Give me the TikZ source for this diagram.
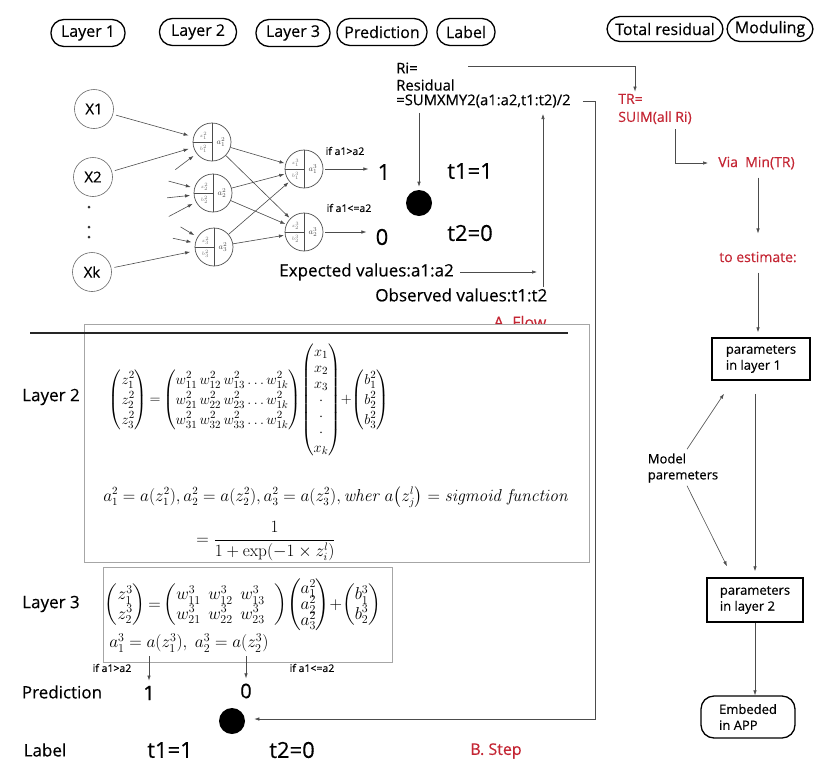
\documentclass[tikz,border=0pt]{standalone}
\usepackage{amsmath}
\usepackage[no-math]{fontspec}
\setmainfont{Open Sans}[FakeBold=0.4]
\usetikzlibrary{arrows.meta}
\definecolor{flowred}{RGB}{196,38,52}
\newcommand{\fsz}[2]{\fontsize{#1}{#2}\selectfont}
% one neuron: name, x, y, layer, index
\newcommand{\neuron}[5]{%
	\node (#1) at (#2,#3)	[neuron]	{};
	\draw (#1.north) -- (#1.south);
	\draw (#1.west) -- (#1.center);
	\node (#1z) at ([xshift=-8.5pt,yshift=6pt]#1.center)	[zb]	{$z^{#4}_{#5}$};
	\node (#1b) at ([xshift=-8.5pt,yshift=-7pt]#1.center)	[zb]	{$b^{#4}_{#5}$};
	\node (#1a) at ([xshift=9pt]#1.center)	[act]	{$a^{#4}_{#5}$};
}
\begin{document}
\begin{tikzpicture}[x=1pt, y=-1pt, line width=0.6pt, draw=black!70, >={Latex[length=5pt,width=3.5pt]},
	pill/.style={rectangle, rounded corners=13pt, draw=black, line width=1.3pt, inner sep=0pt, minimum height=27pt, font=\fsz{16}{19}},
	xnode/.style={circle, draw=black!60, minimum size=39pt, inner sep=0pt, font=\fsz{15}{18}},
	neuron/.style={circle, draw=black!70, line width=0.7pt, minimum size=38pt, inner sep=0pt},
	zb/.style={inner sep=0pt, text=black!55, font=\fsz{5}{6}},
	act/.style={inner sep=0pt, text=black!70, font=\fsz{8}{9}},
	iflbl/.style={inner sep=0pt, font=\fsz{10.5}{12}},
	bignum/.style={inner sep=0pt, font=\fsz{22}{24}},
	res/.style={inner sep=0pt, font=\fsz{14.8}{16}},
	mid/.style={inner sep=0pt, font=\fsz{17}{19}},
	side/.style={inner sep=0pt, font=\fsz{17}{20}},
	redtxt/.style={inner sep=0pt, text=flowred, font=\fsz{14}{18}},
	prm/.style={rectangle, draw=black, line width=1.5pt, inner sep=0pt, align=left, font=\fsz{13}{16}},
	frame/.style={rectangle, draw=black!35, line width=0.6pt, fill=white, inner sep=0pt},
	formula/.style={inner sep=0pt, text=black},
	bdot/.style={circle, fill=black, minimum size=26pt, inner sep=0pt}]
	\useasboundingbox (0,0) rectangle (816,763);

	% headers
	\node (HLay1) at (88,33)	[pill, minimum width=74pt]	{Layer 1};
	\node (HLay2) at (198,32)	[pill, minimum width=77pt]	{Layer 2};
	\node (HLay3) at (293,33)	[pill, minimum width=74pt]	{Layer 3};
	\node (HPred) at (382,32)	[pill, minimum width=90pt]	{Prediction};
	\node (HLab) at (466,32)	[pill, minimum width=58pt]	{Label};
	\node (HTot) at (665,29)	[pill, minimum width=116pt, minimum height=25pt]	{Total residual};
	\node (HMod) at (770,29)	[pill, minimum width=86pt, minimum height=25pt]	{Moduling};

	% A. Flow
	\node (X1) at (94,109)	[xnode]	{X1};
	\node (X2) at (93,177)	[xnode]	{X2};
	\node (Xk) at (92,272)	[xnode]	{Xk};
	\foreach \y [count=\i] in {207,227,237}
		\node (Dots\i) at (89,\y)	[circle, fill=black!80, inner sep=0pt, minimum size=3pt]	{};

	\neuron{N21}{212}{142}{2}{1}
	\neuron{N22}{213}{193}{2}{2}
	\neuron{N23}{214}{247}{2}{3}
	\neuron{N31}{304}{169}{3}{1}
	\neuron{N32}{304}{232}{3}{2}

	\draw[->, shorten <=3pt, shorten >=5pt] (X1) -- (N21);
	\draw[->, shorten <=3pt, shorten >=5pt] (X2) -- (N21);
	\draw[->, shorten <=3pt, shorten >=5pt] (Xk) -- (N23);
	\foreach \n/\a/\r in {N21/217/46pt, N22/165/46pt, N22/186/46pt, N22/208/50pt, N23/149/39pt, N23/168/42pt}
		\draw[->] ([shift={(\a:\r)}]\n.center) -- ([shift={(\a:23pt)}]\n.center);
	\foreach \s in {N21,N22,N23}
		\foreach \t in {N31,N32}
			\draw[->, shorten >=1pt] (\s) -- (\t);

	\node (Out1) at (384,172)	[bignum]	{1};
	\node (Out0) at (382,237)	[bignum]	{0};
	\node (If1) at (345,151)	[iflbl]	{if a1>a2};
	\node (If2) at (349,208)	[iflbl]	{if a1<=a2};
	\draw[->, shorten <=2pt, shorten >=9pt] (N31.east) -- (N31.east -| Out1.west);
	\draw[->, shorten <=2pt, shorten >=9pt] (N32.east) -- (N32.east -| Out0.west);

	\node (Dot1) at (419,203)	[bdot]	{};
	\node (T1) at (470,171)	[bignum]	{t1=1};
	\node (T2) at (470,233)	[bignum]	{t2=0};

	\node (Ri) at (396,68)	[res, anchor=west]	{Ri=};
	\node (Resid) at (396,85)	[res, anchor=west]	{Residual};
	\node (Sumx) at (396,101)	[res, anchor=west]	{=SUMXMY2(a1:a2,t1:t2)/2};
	\draw[->, shorten <=5pt, shorten >=3pt] (Dot1.north |- Sumx.south) -- (Dot1.north);

	\node (Expect) at (279,272)	[mid, anchor=west]	{Expected values:a1:a2};
	\node (Obs) at (375,295)	[mid, anchor=west]	{Observed values:t1:t2};
	\coordinate (VBot) at (543,287);
	\coordinate (VTop) at (543,114);
	\draw[->] (VBot) -- (VTop);
	\draw[->, shorten <=6pt, shorten >=6pt] (Expect.east) -- (Expect.east -| VBot);

	% total residual and moduling
	\node (TR) at (618,109)	[redtxt, anchor=west, align=left]	{TR=\\SUIM(all Ri)};
	\coordinate (RiLine) at (468,66);
	\coordinate (TRturn) at (635,66);
	\draw[->, shorten >=2pt] (RiLine) -- (TRturn) -- (TRturn |- TR.north);
	\node (Via) at (718,163)	[redtxt, anchor=west]	{Via\ \ Min(TR)};
	\draw[->, shorten >=10pt] ([xshift=20pt,yshift=-5pt]TR.south) |- (Via.west);
	\node (Est) at (758,257)	[redtxt]	{to estimate:};
	\draw[->, shorten <=8pt, shorten >=18pt] (Est.north |- Via.south) -- (Est.north);
	\node (P1) at (761,359)	[prm, minimum width=98pt, minimum height=42pt]	{parameters\\in layer 1};
	\node (P2) at (755,600)	[prm, minimum width=96pt, minimum height=44pt]	{parameters\\in layer 2};
	\node (App) at (748,717)	[pill, minimum width=94pt, minimum height=42pt, align=left, font=\fsz{13}{16}]	{Embeded\\in APP};
	\draw[->, shorten <=10pt, shorten >=5pt] (Est.south) -- (Est.south |- P1.north);
	\draw[->, shorten <=13pt, shorten >=6pt] (P2.north |- P1.south) -- (P2.north);
	\draw[->] (P2.south) -- (P2.south |- App.north);
	\node (Model) at (683,468)	[inner sep=0pt, align=left, font=\fsz{13}{16}]	{Model\\paremeters};
	\draw[->] ([xshift=4pt,yshift=4pt]Model.north) -- ([xshift=-37pt,yshift=-13pt]P1.south);
	\draw[->] ([xshift=4pt,yshift=-3pt]Model.south) -- ([xshift=-28pt,yshift=11pt]P2.north);

	% B. Step
	\node (AFlow) at (520,328)	[redtxt, anchor=base, font=\fsz{16}{18}]	{A. Flow};
	\node (Box2) at (336.5,443)	[frame, minimum width=505pt, minimum height=238pt]	{};
	\draw[line width=2pt, black!85] (30,333) -- (568,333);
	\node (Box3) at (247.5,614.5)	[frame, minimum width=289pt, minimum height=95pt]	{};

	\node (L2lab) at (51,397)	[side]	{Layer 2};
	\node (Eq2) at (249,400)	[formula, font=\fsz{15.5}{20}]	{$\begin{pmatrix} z_1^2\\ z_2^2\\ z_3^2 \end{pmatrix} {=} \begin{pmatrix} w_{11}^2\, w_{12}^2\, w_{13}^2 \ldots w_{1k}^2\\ w_{21}^2\, w_{22}^2\, w_{23}^2 \ldots w_{1k}^2\\ w_{31}^2\, w_{32}^2\, w_{33}^2 \ldots w_{1k}^2 \end{pmatrix}\! \begin{pmatrix} x_1\\[-4pt] x_2\\[-4pt] x_3\\[-4pt] \cdot\\[-4pt] \cdot\\[-4pt] \cdot\\[-4pt] x_k \end{pmatrix}\!{+}\! \begin{pmatrix} b_1^2\\ b_2^2\\ b_3^2 \end{pmatrix}$};
	\node (Sig) at (103,497)	[formula, anchor=west, font=\fsz{16}{18}]	{$a_1^2 = a(z_1^2), a_2^2 = a(z_2^2), a_3^2 = a(z_3^2), \mathit{wher}\ a\bigl(z_j^l\bigr) = \mathit{sigmoid}\ \mathit{function}$};
	\node (Frac) at (266,541)	[formula, font=\fsz{16}{18}]	{$=\dfrac{1}{1+\exp(-1\times z_i^l)}$};

	\node (L3lab) at (51,604)	[side]	{Layer 3};
	\node (Eq3) at (243,605)	[formula, font=\fsz{16.5}{17}]	{$\begin{pmatrix} z_1^3\\ z_2^3 \end{pmatrix} {=} \begin{pmatrix} w_{11}^3\;\, w_{12}^3\;\, w_{13}^3\;\;\\ w_{21}^3\;\, w_{22}^3\;\, w_{23}^3\;\; \end{pmatrix}\! \begin{pmatrix} a_1^2\\[-3pt] a_2^2\\[-3pt] a_3^2 \end{pmatrix}\!{+}\! \begin{pmatrix} b_1^3\\ b_2^3 \end{pmatrix}$};
	\node (A3) at (109,643)	[formula, anchor=west, font=\fsz{18}{18}]	{$a_1^3 = a(z_1^3),\ a_2^3 = a(z_2^3)$};

	\node (PredLab) at (62,692)	[side]	{Prediction};
	\node (Pred1) at (149,693)	[bignum, font=\fsz{20}{22}]	{1};
	\node (Pred0) at (246,691)	[bignum, font=\fsz{20}{22}]	{0};
	\node (If3) at (112,668)	[iflbl]	{if a1>a2};
	\node (If4) at (312,668)	[iflbl]	{if a1<=a2};
	\draw[->, shorten <=4pt, shorten >=5pt] (Pred1.north |- A3.south) -- (Pred1.north);
	\draw[->, shorten <=4pt, shorten >=5pt] (Pred0.north |- A3.south) -- (Pred0.north);

	\node (Dot2) at (232,721)	[bdot]	{};
	\coordinate (LoopTurn) at (595,719);
	\draw[->, shorten >=9pt] ([xshift=12pt]Sumx.east) -| (LoopTurn) -- (LoopTurn -| Dot2.east);

	\node (LabLab) at (45,750)	[side]	{Label};
	\node (T1b) at (170,750)	[bignum]	{t1=1};
	\node (T2b) at (292,750)	[bignum]	{t2=0};
	\node (BStep) at (496,751)	[redtxt, font=\fsz{16}{18}]	{B. Step};
\end{tikzpicture}
\end{document}
